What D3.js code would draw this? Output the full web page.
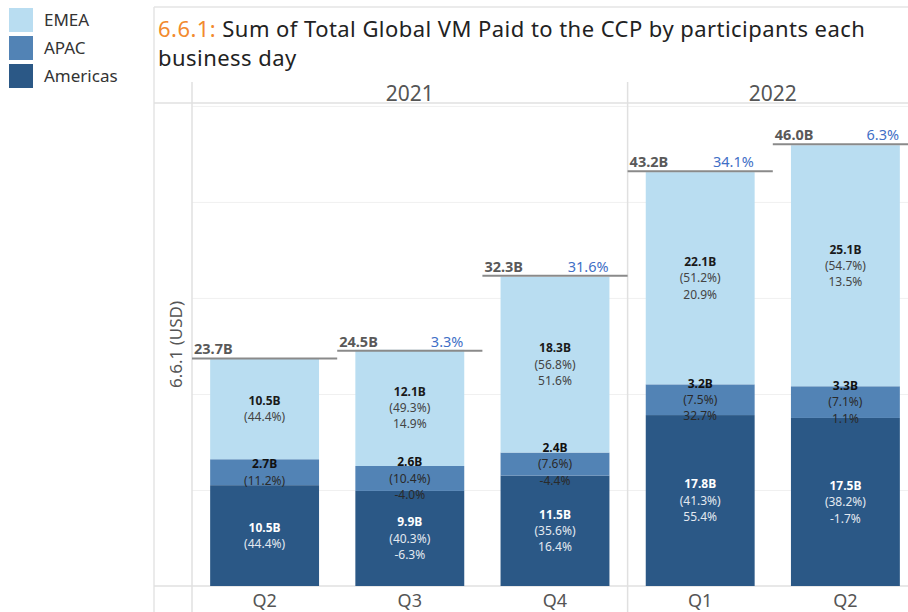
<!DOCTYPE html>
<html>
<head>
<meta charset="utf-8">
<script src="https://cdn.jsdelivr.net/npm/d3@7"></script>
<style>
	body { margin: 0; background: #fff; }
	svg { display: block; font-family: "Noto Sans", sans-serif; }
</style>
</head>
<body>
<div id="chart"></div>
<script>
// Data
const quarters = ["Q2", "Q3", "Q4", "Q1", "Q2"];
const years = ["2021", "2021", "2021", "2022", "2022"];
const americas = [10.5, 9.9, 11.5, 17.8, 17.5];
const apac = [2.7, 2.6, 2.4, 3.2, 3.3];
const emea = [10.5, 12.1, 18.3, 22.1, 25.1];
const americasShare = [44.4, 40.3, 35.6, 41.3, 38.2];
const apacShare = [11.2, 10.4, 7.6, 7.5, 7.1];
const emeaShare = [44.4, 49.3, 56.8, 51.2, 54.7];
const americasGrowth = [null, -6.3, 16.4, 55.4, -1.7];
const apacGrowth = [null, -4.0, -4.4, 32.7, 1.1];
const emeaGrowth = [null, 14.9, 51.6, 20.9, 13.5];
const totals = [23.7, 24.5, 32.3, 43.2, 46.0];
const totalGrowth = [null, 3.3, 31.6, 34.1, 6.3];
const yTicks = [10, 20, 30, 40, 50];
const regions = ["Americas", "APAC", "EMEA"];
const legendOrder = ["EMEA", "APAC", "Americas"];

const W = 908, H = 612;
const panelLeft = 154;
const plot = { left: 192, right: 918, top: 103, bottom: 586 };

const color = d3.scaleOrdinal()
	.domain(regions)
	.range(["#2b5886", "#5283b5", "#b9ddf1"]);

const rows = quarters.map((q, i) => ({
	key: years[i] + "-" + q,
	quarter: q,
	year: years[i],
	Americas: americas[i],
	APAC: apac[i],
	EMEA: emea[i],
	share: { Americas: americasShare[i], APAC: apacShare[i], EMEA: emeaShare[i] },
	growth: { Americas: americasGrowth[i], APAC: apacGrowth[i], EMEA: emeaGrowth[i] },
	total: totals[i],
	totalGrowth: totalGrowth[i],
}));

const stacked = d3.stack().keys(regions)(rows);

const x = d3.scaleBand()
	.domain(rows.map((d) => d.key))
	.range([plot.left, plot.right])
	.paddingInner(0.25)
	.paddingOuter(0.125);
const step = x.step();
const colStart = (k) => x(k) - step * 0.125;

const y = d3.scaleLinear().domain([0, 50.3]).range([plot.bottom, plot.top]);

// plain hyphen for negatives, like the original
const fmt = d3.formatLocale({
	decimal: ".", thousands: ",", grouping: [3], currency: ["", ""], minus: "-",
}).format(".1f");

const svg = d3.select("#chart").append("svg")
	.attr("width", W).attr("height", H);

// Legend
const legend = svg.append("g");
legendOrder.forEach((k, i) => {
	legend.append("rect")
		.attr("x", 9).attr("y", 8 + i * 28)
		.attr("width", 24).attr("height", 24)
		.attr("fill", color(k));
	legend.append("text")
		.attr("x", 44).attr("y", 20 + i * 28)
		.attr("dy", "0.35em")
		.attr("font-size", 17)
		.attr("fill", "#333")
		.text(k);
});

// Panel frame
const frame = svg.append("g").attr("stroke", "#e4e4e4").attr("stroke-width", 1.5);
frame.append("line").attr("x1", panelLeft).attr("x2", W).attr("y1", 7).attr("y2", 7);
frame.append("line").attr("x1", panelLeft).attr("x2", panelLeft).attr("y1", 7).attr("y2", H);

// Title
const title = svg.append("text")
	.attr("font-size", 22)
	.attr("letter-spacing", 0.45)
	.attr("fill", "#222");
const t1 = title.append("tspan").attr("x", 158).attr("y", 37);
t1.append("tspan").attr("fill", "#f28a2e").text("6.6.1:");
t1.append("tspan").text(" Sum of Total Global VM Paid to the CCP by participants each");
title.append("tspan").attr("x", 158).attr("y", 66).text("business day");

// Gridlines
svg.append("g")
	.attr("transform", `translate(${plot.left},0)`)
	.call(d3.axisLeft(y).tickValues(yTicks).tickSize(-(W - plot.left)).tickFormat(""))
	.call((g) => g.select(".domain").remove())
	.call((g) => g.selectAll(".tick line").attr("stroke", "#f0f0f0"));

// Header and structural lines
const lines = svg.append("g").attr("stroke", "#e0e0e0").attr("stroke-width", 1.5);
lines.append("line").attr("x1", panelLeft).attr("x2", W).attr("y1", plot.top).attr("y2", plot.top);
lines.append("line").attr("x1", panelLeft).attr("x2", W).attr("y1", plot.bottom).attr("y2", plot.bottom);
lines.append("line").attr("x1", plot.left).attr("x2", plot.left).attr("y1", 82).attr("y2", H);

// Year panes
const yearGroups = d3.groups(rows, (d) => d.year);
yearGroups.forEach(([yr, list], i) => {
	const x0 = colStart(list[0].key);
	const x1 = colStart(list[list.length - 1].key) + step;
	if (i > 0) {
		lines.append("line").attr("x1", x0).attr("x2", x0).attr("y1", 82).attr("y2", H);
	}
	svg.append("text")
		.attr("x", (x0 + x1) / 2).attr("y", 101)
		.attr("text-anchor", "middle")
		.attr("font-size", 21)
		.attr("fill", "#555")
		.text(yr);
});

// Bars
svg.append("g")
	.selectAll("g")
	.data(stacked)
	.join("g")
	.attr("fill", (s) => color(s.key))
	.selectAll("rect")
	.data((s) => s)
	.join("rect")
	.attr("x", (d) => x(d.data.key))
	.attr("width", x.bandwidth())
	.attr("y", (d) => y(d[1]))
	.attr("height", (d) => y(d[0]) - y(d[1]));

// Segment labels
const lineH = 16.4;
const labelColors = {
	EMEA: { bold: "#1a1a1a", reg: "#444" },
	APAC: { bold: "#111", reg: "#2a2a2a" },
	Americas: { bold: "#fff", reg: "#e3e9f0" },
};
stacked.forEach((s) => {
	s.forEach((d) => {
		const r = d.data;
		const parts = [
			{ t: fmt(r[s.key]) + "B", bold: true },
			{ t: "(" + fmt(r.share[s.key]) + "%)" },
		];
		if (r.growth[s.key] !== null) parts.push({ t: fmt(r.growth[s.key]) + "%" });
		const mid = (y(d[0]) + y(d[1])) / 2;
		const first = mid - ((parts.length - 1) / 2) * lineH;
		parts.forEach((p, j) => {
			svg.append("text")
				.attr("x", x(r.key) + x.bandwidth() / 2)
				.attr("y", first + j * lineH)
				.attr("dy", "0.35em")
				.attr("text-anchor", "middle")
				.attr("font-size", 12)
				.attr("font-weight", p.bold ? 700 : 400)
				.attr("fill", p.bold ? labelColors[s.key].bold : labelColors[s.key].reg)
				.text(p.t);
		});
	});
});

// Total reference lines and labels
const totalsG = svg.append("g");
rows.forEach((r) => {
	const x0 = colStart(r.key);
	const ty = y(r.total);
	totalsG.append("line")
		.attr("x1", x0).attr("x2", x0 + step)
		.attr("y1", ty).attr("y2", ty)
		.attr("stroke", "#8a8a8a").attr("stroke-width", 2);
	totalsG.append("text")
		.attr("x", x0 + 2).attr("y", ty - 4)
		.attr("font-size", 14.5).attr("font-weight", 700)
		.attr("fill", "#595959")
		.text(fmt(r.total) + "B");
	if (r.totalGrowth !== null) {
		totalsG.append("text")
			.attr("x", x0 + step - 19).attr("y", ty - 4)
			.attr("text-anchor", "end")
			.attr("font-size", 14.5)
			.attr("fill", "#3f6fc6")
			.text(fmt(r.totalGrowth) + "%");
	}
});

// Quarter labels
svg.append("g")
	.selectAll("text")
	.data(rows)
	.join("text")
	.attr("x", (d) => x(d.key) + x.bandwidth() / 2)
	.attr("y", 607)
	.attr("text-anchor", "middle")
	.attr("font-size", 18)
	.attr("fill", "#555")
	.text((d) => d.quarter);

// Y axis title
svg.append("text")
	.attr("transform", `translate(182,${(plot.top + plot.bottom) / 2}) rotate(-90)`)
	.attr("text-anchor", "middle")
	.attr("font-size", 17)
	.attr("fill", "#555")
	.text("6.6.1 (USD)");
</script>
</body>
</html>
